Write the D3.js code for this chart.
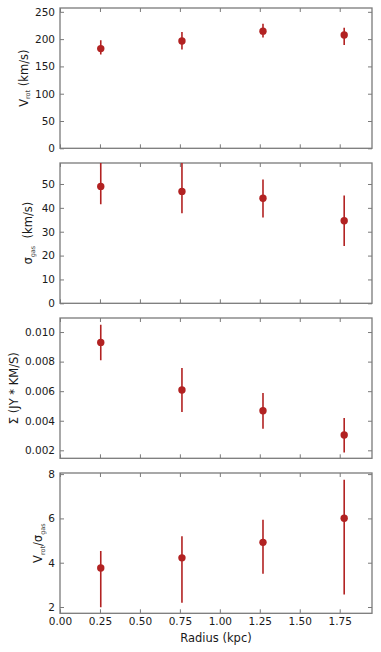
<!DOCTYPE html>
<html>
<head>
<meta charset="utf-8">
<script src="https://cdn.jsdelivr.net/npm/d3@7"></script>
<style>
  html, body { margin: 0; padding: 0; background: #fff; }
  svg { display: block; }
  text { font-family: "DejaVu Sans", sans-serif; fill: #1a1a1a; white-space: pre; }
</style>
</head>
<body>
<svg id="chart" width="381" height="652"></svg>
<script>
// ---- data ----
const radius = [0.255, 0.763, 1.27, 1.778];

const vrot    = [182.6, 196.5, 214.6, 207.5];
const vrotLo  = [172, 181, 203, 189];
const vrotHi  = [198, 213, 228, 221];

const sigma   = [49.0, 46.9, 44.0, 34.6];
const sigmaLo = [41.5, 37.7, 36.0, 24.0];
const sigmaHi = [60.0, 60.0, 51.9, 45.2];

const surf    = [0.00930, 0.00608, 0.00468, 0.00304];
const surfLo  = [0.00810, 0.00460, 0.00346, 0.00186];
const surfHi  = [0.01050, 0.00757, 0.00587, 0.00419];

const ratio   = [3.76, 4.22, 4.92, 6.01];
const ratioLo = [1.99, 2.19, 3.50, 2.57];
const ratioHi = [4.53, 5.20, 5.94, 7.74];

const xTicks = [0.00, 0.25, 0.50, 0.75, 1.00, 1.25, 1.50, 1.75];
const yTicks1 = [0, 50, 100, 150, 200, 250];
const yTicks2 = [0, 10, 20, 30, 40, 50];
const yTicks3 = [0.002, 0.004, 0.006, 0.008, 0.010];
const yTicks4 = [2, 4, 6, 8];

const xDomain = [0, 1.952];

// ---- layout ----
const svg = d3.select("#chart");
const left = 60, right = 372;
const color = "#b22222";
const spineColor = "#7a7a7a";
const tickLen = 4;
const tickFont = 10.5;

const x = d3.scaleLinear().domain(xDomain).range([left, right]);

const panels = [
  {top: 8,   bottom: 148.3, domain: [0, 257],  ticks: yTicks1, fmt: d3.format("d"),
   y: vrot, lo: vrotLo, hi: vrotHi, labelX: 27.5,
   label: [["V", 11.5], ["rot", 6.5, true], [" (km/s)", 11.5]]},
  {top: 163, bottom: 303.3, domain: [0, 58.8], ticks: yTicks2, fmt: d3.format("d"),
   y: sigma, lo: sigmaLo, hi: sigmaHi, labelX: 32,
   label: [["σ", 11.5], ["gas", 6.5, true], ["  (km/s)", 11.5]]},
  {top: 318, bottom: 458.3, domain: [0.00146, 0.01095], ticks: yTicks3, fmt: d3.format(".3f"),
   y: surf, lo: surfLo, hi: surfHi, labelX: 17.5,
   label: [["Σ (JY * KM/S)", 11.5]]},
  {top: 473, bottom: 613.3, domain: [1.716, 8.05], ticks: yTicks4, fmt: d3.format("d"),
   y: ratio, lo: ratioLo, hi: ratioHi, labelX: 42,
   label: [["V", 11.5], ["rot", 6.5, true], ["/σ", 11.5], ["gas", 6.5, true]]}
];

panels.forEach((p, i) => {
  const y = d3.scaleLinear().domain(p.domain).range([p.bottom, p.top]);
  const g = svg.append("g");
  const clipId = "clip" + i;
  svg.append("clipPath").attr("id", clipId)
    .append("rect").attr("x", left).attr("y", p.top)
    .attr("width", right - left).attr("height", p.bottom - p.top);

  // ticks (inward, all four sides)
  const yl = g.append("g").attr("transform", `translate(${left},0)`)
    .call(d3.axisLeft(y).tickValues(p.ticks).tickSize(-tickLen).tickPadding(5).tickFormat(p.fmt));
  const yr = g.append("g").attr("transform", `translate(${right},0)`)
    .call(d3.axisRight(y).tickValues(p.ticks).tickSize(-tickLen).tickFormat(""));
  const xt = g.append("g").attr("transform", `translate(0,${p.top})`)
    .call(d3.axisTop(x).tickValues(xTicks).tickSize(-tickLen).tickFormat(""));
  const xb = g.append("g").attr("transform", `translate(0,${p.bottom})`)
    .call(d3.axisBottom(x).tickValues(xTicks).tickSize(-tickLen).tickPadding(4.5)
      .tickFormat(i === panels.length - 1 ? d3.format(".2f") : ""));
  [yl, yr, xt, xb].forEach(a => {
    a.select(".domain").remove();
    a.selectAll(".tick line").attr("stroke", spineColor).attr("stroke-width", 1);
    a.selectAll(".tick text").attr("font-size", tickFont).attr("fill", "#1a1a1a")
      .attr("font-family", "DejaVu Sans, sans-serif");
  });

  // frame
  g.append("rect").attr("x", left).attr("y", p.top)
    .attr("width", right - left).attr("height", p.bottom - p.top)
    .attr("fill", "none").attr("stroke", spineColor).attr("stroke-width", 1.3);

  // error bars + points
  const data = radius.map((r, k) => ({r, v: p.y[k], lo: p.lo[k], hi: p.hi[k]}));
  const marks = g.append("g").attr("clip-path", `url(#${clipId})`);
  marks.selectAll("line.err").data(data).join("line")
    .attr("class", "err")
    .attr("x1", d => x(d.r)).attr("x2", d => x(d.r))
    .attr("y1", d => y(d.lo)).attr("y2", d => y(d.hi))
    .attr("stroke", color).attr("stroke-width", 1.6);
  marks.selectAll("circle").data(data).join("circle")
    .attr("cx", d => x(d.r)).attr("cy", d => y(d.v)).attr("r", 3.7)
    .attr("fill", color);

  // y label
  const cy = (p.top + p.bottom) / 2;
  const t = g.append("text")
    .attr("transform", `translate(${p.labelX},${cy}) rotate(-90)`)
    .attr("text-anchor", "middle");
  let shift = 0;
  p.label.forEach(([s, fs, sub]) => {
    const ts = t.append("tspan").attr("font-size", fs).text(s);
    if (sub) { ts.attr("dy", 2.5 - shift).attr("fill", "#444"); shift = 2.5; }
    else { ts.attr("dy", -shift); shift = 0; }
  });
});

// x label
svg.append("text").attr("x", x(xDomain[0]) + (right - left) / 2).attr("y", 641.5)
  .attr("text-anchor", "middle").attr("font-size", 11.5).text("Radius (kpc)");
</script>
</body>
</html>
